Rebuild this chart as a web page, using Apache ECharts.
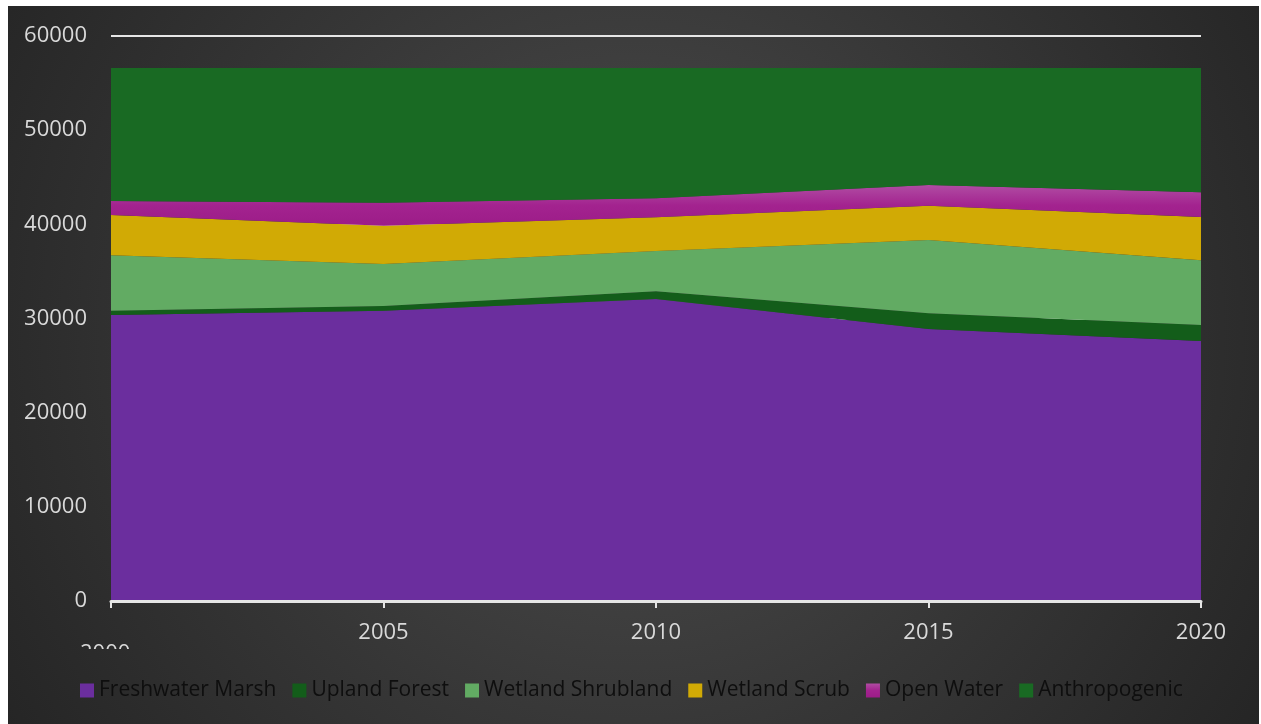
<!DOCTYPE html>
<html>
<head>
<meta charset="utf-8">
<script src="https://cdn.jsdelivr.net/npm/echarts@6/dist/echarts.min.js"></script>
<style>
  html, body { margin: 0; padding: 0; background: #ffffff; }
  #chart { position: absolute; left: 8px; top: 6px; width: 1251px; height: 718px; }
</style>
</head>
<body>
<div id="chart"></div>
<script>
// Land cover area by year (stacked)
const years = ['2000', '2005', '2010', '2015', '2020'];
const freshwaterMarsh = [30370, 30830, 32070, 28880, 27610];
const uplandForest = [460, 500, 820, 1670, 1700];
const wetlandShrubland = [5880, 4460, 4280, 7780, 6870];
const wetlandScrub = [4280, 4070, 3580, 3640, 4600];
const openWater = [1490, 2440, 2020, 2200, 2620];
const anthropogenic = [14120, 14300, 13830, 12430, 13200];
const yTicks = [0, 10000, 20000, 30000, 40000, 50000, 60000];

const chart = echarts.init(document.getElementById('chart'));

function layer(name, data, color) {
  return {
    name: name,
    type: 'line',
    stack: 'total',
    data: data,
    symbol: 'none',
    lineStyle: { width: 0 },
    areaStyle: { color: color, opacity: 1 },
    itemStyle: { color: color },
    emphasis: { disabled: true }
  };
}

// shared backdrop gradient in chart pixel coordinates
function backdrop() {
  return {
    type: 'radial', x: 625, y: 330, r: 760, global: true,
    colorStops: [
      { offset: 0, color: '#4e4e4e' },
      { offset: 0.55, color: '#363636' },
      { offset: 1, color: '#242424' }
    ]
  };
}

const openWaterFill = new echarts.graphic.LinearGradient(0, 0, 0, 1, [
  { offset: 0, color: '#b04ca3' },
  { offset: 0.5, color: '#a3238f' },
  { offset: 1, color: '#9c1c88' }
]);

chart.setOption({
  animation: false,
  textStyle: { fontFamily: 'Open Sans' },
  grid: { left: 103, right: 58, top: 30, bottom: 123 },
  legend: {
    bottom: 18,
    left: 67,
    itemWidth: 14,
    itemHeight: 14,
    itemGap: 16,
    icon: 'rect',
    textStyle: { color: '#0e0e0e', fontSize: 21, fontFamily: 'Open Sans' },
    data: ['Freshwater Marsh', 'Upland Forest', 'Wetland Shrubland', 'Wetland Scrub', 'Open Water', 'Anthropogenic']
  },
  xAxis: {
    type: 'category',
    data: years,
    boundaryGap: false,
    axisLine: { lineStyle: { color: '#e6e6e6', width: 3 } },
    axisTick: { show: true, length: 7, lineStyle: { color: '#e6e6e6', width: 2 } },
    axisLabel: {
      color: '#d9d9d9', fontSize: 22, margin: 21,
      formatter: function (v, i) { return i === 0 ? '' : v; },
      showMinLabel: true, showMaxLabel: true
    },
    z: 10
  },
  yAxis: {
    type: 'value',
    min: yTicks[0],
    max: yTicks[yTicks.length - 1],
    interval: 10000,
    axisLine: { show: false },
    axisTick: { show: false },
    axisLabel: { color: '#d9d9d9', fontSize: 22, margin: 24, formatter: function (v) { return String(v); } },
    splitLine: { lineStyle: { color: '#e6e6e6', width: 2 } }
  },
  graphic: [
    {
      type: 'rect', z: -100, silent: true,
      shape: { x: 0, y: 0, width: 1251, height: 718 },
      style: { fill: backdrop() }
    },
    // first category label, mostly hidden below the plot
    {
      type: 'text', left: 72, top: 637, z: 50,
      style: { text: years[0], fill: '#d9d9d9', font: '22px "Open Sans"' }
    },
    {
      type: 'rect', z: 60, silent: true,
      shape: { x: 60, y: 643, width: 80, height: 28 },
      style: { fill: backdrop() }
    }
  ],
  series: [
    layer('Freshwater Marsh', freshwaterMarsh, '#6b2e9e'),
    layer('Upland Forest', uplandForest, '#135d1a'),
    layer('Wetland Shrubland', wetlandShrubland, '#62ab63'),
    layer('Wetland Scrub', wetlandScrub, '#d1aa05'),
    layer('Open Water', openWater, openWaterFill),
    layer('Anthropogenic', anthropogenic, '#196a23')
  ]
});
</script>
</body>
</html>
